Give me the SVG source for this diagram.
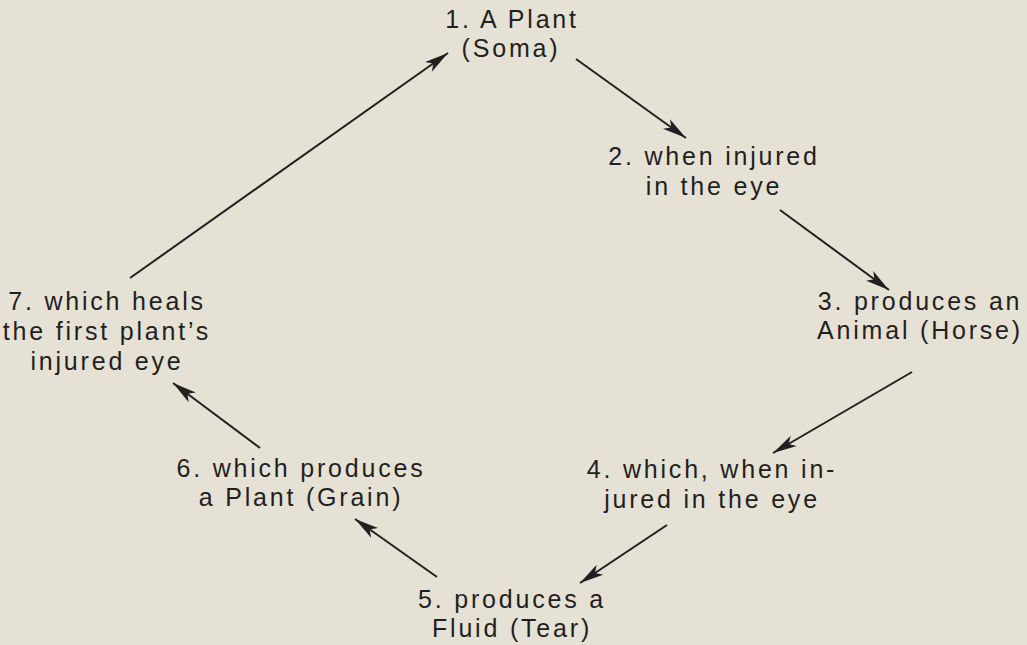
<svg xmlns="http://www.w3.org/2000/svg" width="1027" height="645" viewBox="0 0 1027 645">
<style>
.bg{fill:#e6e1d5}
.t{font-family:"Liberation Sans",Arial,sans-serif;font-size:25px;letter-spacing:2.8px;fill:#231f20;text-anchor:middle}
.c{stroke:#231f20;stroke-width:2;fill:none;marker-end:url(#ah)}
</style>
<defs>
<marker id="ah" markerUnits="userSpaceOnUse" markerWidth="26" markerHeight="14" refX="24" refY="7" orient="auto">
<path d="M0,1 L24,7 L0,13 L6,7 z" fill="#231f20"/>
</marker>
</defs>
<rect class="bg" x="0" y="0" width="1027" height="645"/>
<g id="connectors">
<line class="c" x1="576" y1="59" x2="686" y2="138"/>
<line class="c" x1="780" y1="210" x2="889" y2="290"/>
<line class="c" x1="912" y1="372" x2="773" y2="453"/>
<line class="c" x1="667" y1="525" x2="580" y2="583"/>
<line class="c" x1="437" y1="577" x2="355" y2="519"/>
<line class="c" x1="260" y1="448" x2="173" y2="383"/>
<line class="c" x1="130" y1="278" x2="448" y2="53"/>
</g>
<g id="n1"><text class="t" x="512" y="28">1. A Plant</text><text class="t" x="511" y="57">(Soma)</text></g>
<g id="n2"><text class="t" x="714" y="165">2. when injured</text><text class="t" x="714" y="195">in the eye</text></g>
<g id="n3"><text class="t" x="920" y="310">3. produces an</text><text class="t" x="920" y="339">Animal (Horse)</text></g>
<g id="n4"><text class="t" x="712" y="478">4. which, when in-</text><text class="t" x="712" y="508">jured in the eye</text></g>
<g id="n5"><text class="t" x="512" y="608">5. produces a</text><text class="t" x="512" y="637">Fluid (Tear)</text></g>
<g id="n6"><text class="t" x="301" y="477">6. which produces</text><text class="t" x="301" y="506">a Plant (Grain)</text></g>
<g id="n7"><text class="t" x="107" y="310">7. which heals</text><text class="t" x="107" y="340">the first plant’s</text><text class="t" x="107" y="370">injured eye</text></g>
</svg>
